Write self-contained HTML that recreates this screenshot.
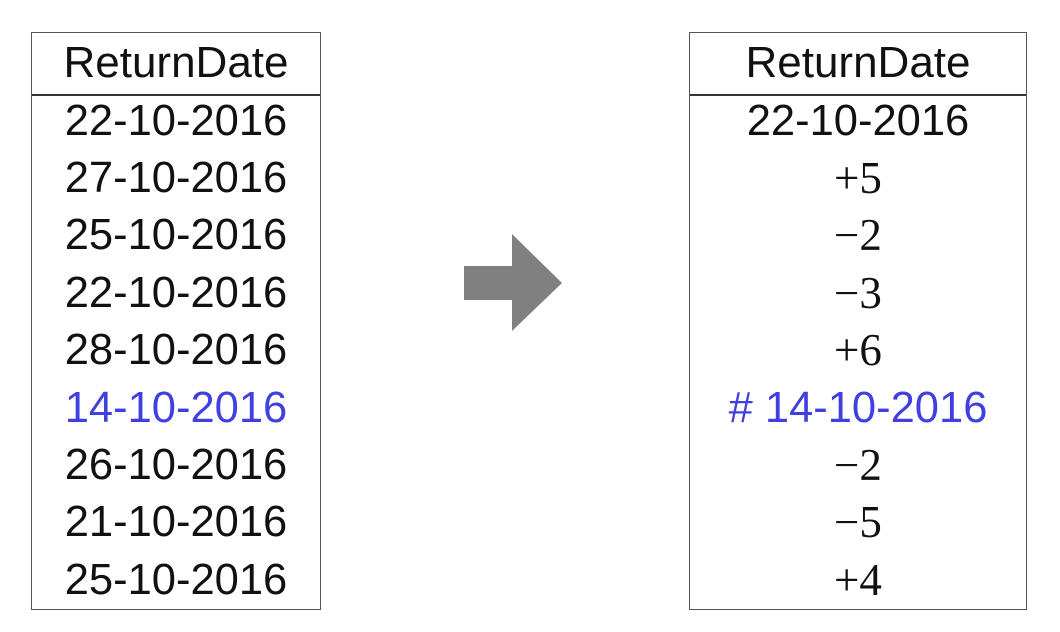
<!DOCTYPE html>
<html><head><meta charset="utf-8"><style>
body{margin:0;width:1060px;height:632px;background:#fff;position:relative;overflow:hidden;font-family:"Liberation Sans",sans-serif;}
.tbl{position:absolute;top:32px;height:578px;border:1.5px solid #555;box-sizing:border-box;}
.hdr{position:absolute;left:0;right:0;top:0;height:61px;border-bottom:2px solid #333;text-align:center;line-height:60px;font-size:44px;color:#111;}
.cell{position:absolute;left:0;right:0;height:57.4px;text-align:center;line-height:57.4px;font-size:43.5px;color:#111;}
.serif{font-family:"Liberation Serif",serif;font-size:45px;}
.blue{color:#4040e0;}
</style></head><body>
<div class="tbl" style="left:31px;width:290px;">
<div class="hdr">ReturnDate</div>
<div id="L"></div>
</div>
<svg style="position:absolute;left:0;top:0" width="1060" height="632">
<polygon points="464,266 512,266 512,234 562,283 512,331 512,300 464,300" fill="#808080"/>
</svg>
<div class="tbl" style="left:689px;width:338px;">
<div class="hdr">ReturnDate</div>
<div id="R"></div>
</div>
<script>
const leftVals=["22-10-2016","27-10-2016","25-10-2016","22-10-2016","28-10-2016","14-10-2016","26-10-2016","21-10-2016","25-10-2016"];
const rightVals=["22-10-2016","+5","\u22122","\u22123","+6","# 14-10-2016","\u22122","\u22125","+4"];
const highlight=5;
function fill(id,vals,isRight){
 const c=document.getElementById(id);
 vals.forEach((v,i)=>{
  const d=document.createElement('div');
  d.className='cell'+(i===highlight?' blue':'')+(isRight&&i!==0&&i!==highlight?' serif':'');
  d.style.top=(59.5+i*57.4)+'px';
  d.textContent=v;
  
  
  c.appendChild(d);
 });
}
fill('L',leftVals,false);
fill('R',rightVals,true);
</script>
</body></html>
